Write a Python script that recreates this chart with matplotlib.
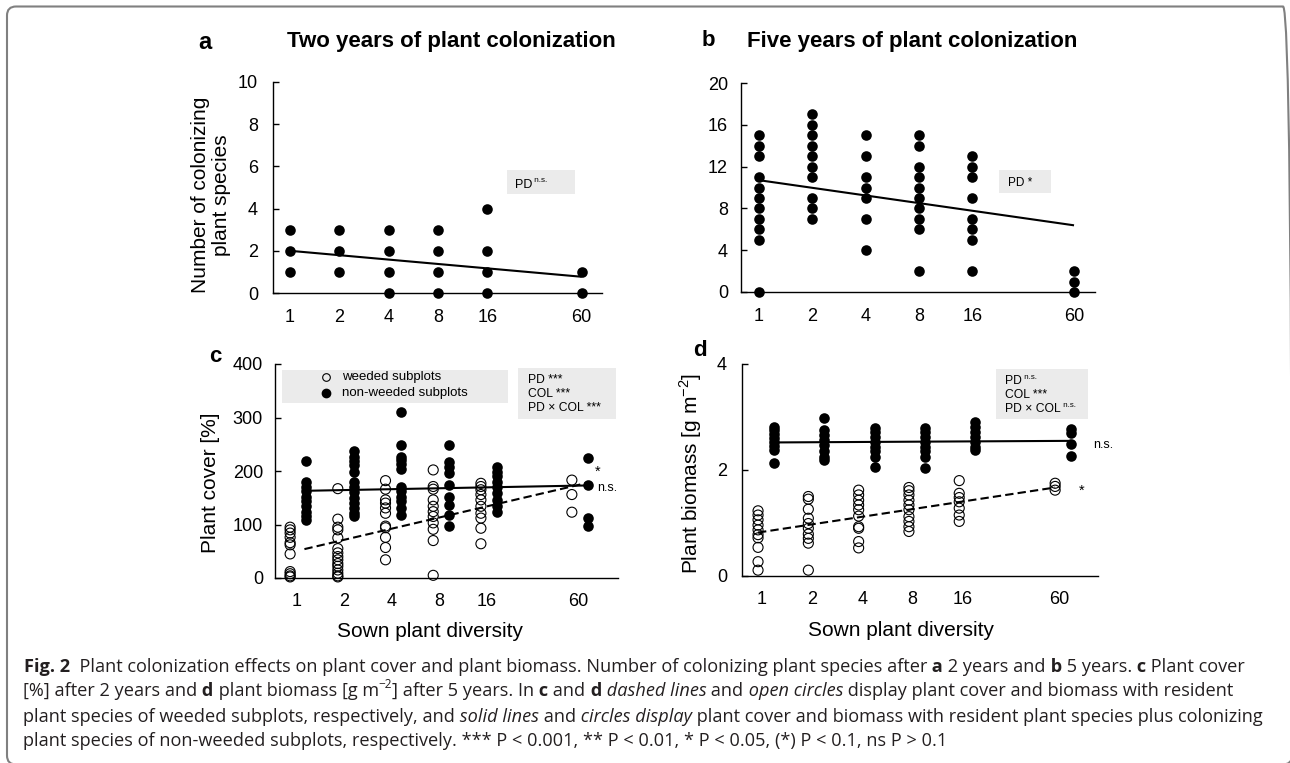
import numpy as np
import matplotlib
matplotlib.use("Agg")
import matplotlib.pyplot as plt
from matplotlib.patches import Rectangle, FancyBboxPatch
from matplotlib.lines import Line2D
from matplotlib.transforms import IdentityTransform

plt.rcParams['font.family'] = ['Liberation Sans', 'DejaVu Sans']

# ---------------- data ----------------
diversity = [1, 2, 4, 8, 16, 60]
div_labels = ['1', '2', '4', '8', '16', '60']

# a: number of colonizing species after 2 years
a_colonizers = [[1, 2, 3], [1, 2, 3], [0, 1, 2, 3], [0, 1, 2, 3], [0, 1, 2, 4], [0, 1]]
a_fit = [2.0, 0.77]          # fitted value at diversity 1 and 60

# b: number of colonizing species after 5 years
b_colonizers = [[15, 14, 13, 11, 10, 9, 8, 7, 6, 5, 0],
                [17, 16, 15, 14, 13, 12, 11, 9, 8, 7],
                [15, 13, 11, 10, 9, 7, 4],
                [15, 14, 12, 11, 10, 9, 8, 7, 6, 2],
                [13, 12, 11, 9, 7, 6, 5, 2],
                [2, 1, 0]]
b_fit = [10.7, 6.38]

# c: plant cover [%]
c_weeded = [[95, 90, 84, 76, 66, 62, 45, 12, 8, 4, 2],
            [167, 110, 95, 90, 75, 55, 47, 40, 34, 27, 22, 15, 9, 4, 2],
            [182, 166, 146, 140, 131, 121, 97, 94, 76, 57, 34],
            [202, 171, 166, 146, 134, 124, 115, 103, 91, 70, 5],
            [177, 171, 165, 156, 146, 134, 121, 112, 93, 64],
            [183, 156, 123]]
c_nonweeded = [[219, 180, 171, 162, 152, 143, 134, 124, 115, 109],
               [238, 227, 219, 211, 198, 180, 171, 160, 150, 140, 131, 122, 116],
               [311, 248, 227, 221, 213, 203, 171, 162, 152, 143, 131, 118],
               [248, 216, 208, 196, 174, 151, 137, 118, 98],
               [208, 199, 190, 180, 171, 159, 146, 134, 124],
               [225, 174, 112, 98]]
c_fit_weeded = [54, 178]
c_fit_nonweeded = [163, 173]

# d: plant biomass [g m-2]
d_weeded = [[1.23, 1.15, 1.06, 0.96, 0.87, 0.78, 0.72, 0.54, 0.27, 0.11],
            [1.5, 1.45, 1.26, 1.09, 0.99, 0.9, 0.79, 0.71, 0.62, 0.11],
            [1.62, 1.53, 1.43, 1.34, 1.25, 1.13, 0.93, 0.9, 0.65, 0.53],
            [1.67, 1.61, 1.53, 1.43, 1.34, 1.25, 1.12, 1.03, 0.93, 0.84],
            [1.8, 1.56, 1.48, 1.4, 1.28, 1.15, 1.03],
            [1.75, 1.69, 1.62]]
d_nonweeded = [[2.82, 2.75, 2.68, 2.6, 2.53, 2.46, 2.38, 2.14],
               [2.99, 2.75, 2.66, 2.57, 2.47, 2.35, 2.25, 2.18],
               [2.8, 2.72, 2.63, 2.53, 2.44, 2.35, 2.25, 2.05],
               [2.8, 2.72, 2.63, 2.53, 2.44, 2.35, 2.25, 2.03],
               [2.9, 2.82, 2.72, 2.63, 2.53, 2.44, 2.38],
               [2.78, 2.69, 2.5, 2.27]]
d_fit_weeded = [0.82, 1.67]
d_fit_nonweeded = [2.52, 2.55]

# ---------------- layout ----------------
W, H = 1290, 763
fig = plt.figure(figsize=(W / 100, H / 100), dpi=100)
renderer = fig.canvas.get_renderer()
xlog = np.log2(diversity)


def ax_px(l, t, r, b):
    return fig.add_axes([l / W, 1 - b / H, (r - l) / W, (b - t) / H])


def style(ax, xlim, ylim, yticks, xpad, ypad):
    ax.set_xlim(*xlim)
    ax.set_ylim(*ylim)
    for s in ['top', 'right']:
        ax.spines[s].set_visible(False)
    for s in ['left', 'bottom']:
        ax.spines[s].set_linewidth(1.0)
        ax.spines[s].set_color('black')
    ax.set_xticks(xlog)
    ax.set_xticklabels(div_labels)
    ax.set_yticks(yticks)
    ax.tick_params(axis='x', length=0, pad=xpad, labelsize=13)
    ax.tick_params(axis='y', direction='in', length=4, width=1, pad=ypad, labelsize=13)
    ax.patch.set_alpha(0)


def dots(ax, xpos, groups, filled, s):
    xs = np.concatenate([[x] * len(g) for x, g in zip(xpos, groups)])
    ys = np.concatenate([np.asarray(g, float) for g in groups])
    if filled:
        ax.scatter(xs, ys, s=s, c='black', linewidths=0, clip_on=False, zorder=3)
    else:
        ax.scatter(xs, ys, s=s, facecolors='none', edgecolors='black',
                   linewidths=0.8, clip_on=False, zorder=3)


def fit_line(ax, x0, x1, fit, ls='-'):
    ax.plot([x0, x1], fit, color='black', lw=1.5, ls=ls, zorder=4,
            dashes=(4, 2) if ls == '--' else (None, None), solid_capstyle='butt')


def ftext(x, y, s, **kw):
    return fig.text(x / W, 1 - y / H, s, **kw)


def rich(x, y, segs, size, family, color='black'):
    arts = []
    cx = x
    for s, st in segs:
        kw = dict(fontsize=size, family=family, color=color)
        dy = 0
        if st == 'b':
            kw['fontweight'] = 'bold'
        elif st == 'i':
            kw['fontstyle'] = 'italic'
        elif st == 'sup':
            kw['fontsize'] = size * 0.65
            dy = size * 0.45 * 100 / 72
        t = fig.text(cx / W, (H - (y - dy)) / H, s, ha='left', va='baseline', **kw)
        bb = t.get_window_extent(renderer)
        cx = bb.x1
        arts.append(t)
    return arts, cx - x


# ---- panel a ----
axa = ax_px(273, 82, 602, 293)
style(axa, (-0.344, 6.32), (0, 10), [0, 2, 4, 6, 8, 10], 11.5, 10.8)
dots(axa, xlog, a_colonizers, True, 58)
fit_line(axa, xlog[0], xlog[-1], a_fit)

# ---- panel b ----
axb = ax_px(741, 83, 1095, 292)
style(axb, (-0.3375, 6.30), (0, 20), [0, 4, 8, 12, 16, 20], 11.5, 9.4)
dots(axb, xlog, b_colonizers, True, 58)
fit_line(axb, xlog[0], xlog[-1], b_fit)

# ---- panel c ----
axc = ax_px(275, 364, 618, 578)
style(axc, (-0.447, 6.744), (0, 400), [0, 100, 200, 300, 400], 10.8, 8.6)
c_open_x = xlog - 0.13
c_fill_x = xlog + 0.20
dots(axc, c_open_x, c_weeded, False, 52)
dots(axc, c_fill_x, c_nonweeded, True, 58)
fit_line(axc, c_open_x[0] + 0.3, c_fill_x[-1], c_fit_weeded, ls='--')
fit_line(axc, c_fill_x[0], c_fill_x[-1], c_fit_nonweeded)

# ---- panel d ----
axd = ax_px(742, 364, 1098, 576)
style(axd, (-0.394, 6.684), (0, 4), [0, 2, 4], 10.8, 10.8)
d_open_x = xlog - 0.075
d_fill_x = xlog + 0.245
dots(axd, d_open_x, d_weeded, False, 52)
dots(axd, d_fill_x, d_nonweeded, True, 58)
fit_line(axd, d_open_x[0], d_open_x[-1], d_fit_weeded, ls='--')
fit_line(axd, d_fill_x[0], d_fill_x[-1], d_fit_nonweeded)

# ---- titles, panel letters, axis labels ----
ftext(198, 49, 'a', fontsize=17, fontweight='bold', va='baseline', ha='left')
ftext(451, 47, 'Two years of plant colonization', fontsize=16, fontweight='bold',
      va='baseline', ha='center')
ftext(702, 46, 'b', fontsize=16, fontweight='bold', va='baseline', ha='left')
ftext(912, 47.5, 'Five years of plant colonization', fontsize=16, fontweight='bold',
      va='baseline', ha='center')
ftext(209, 362, 'c', fontsize=16, fontweight='bold', va='baseline', ha='left')
ftext(693, 356, 'd', fontsize=16, fontweight='bold', va='baseline', ha='left')

ftext(211, 195, 'Number of colonizing\nplant species', fontsize=15, rotation=90,
      ha='center', va='center', multialignment='center', linespacing=1.15)
ftext(211, 483, 'Plant cover [%]', fontsize=15, rotation=90, ha='center', va='center')
ftext(691, 473, 'Plant biomass [g m$^{\\mathregular{-2}}$]', fontsize=15, rotation=90,
      ha='center', va='center')
ftext(430, 637, 'Sown plant diversity', fontsize=15, ha='center', va='baseline')
ftext(901, 636, 'Sown plant diversity', fontsize=15, ha='center', va='baseline')

# ---- grey annotation boxes ----
BOX = '#ebebeb'
lab_font = ['Liberation Sans', 'DejaVu Sans']


def gbox(l, t, r, b):
    fig.patches.append(Rectangle((l / W, 1 - b / H), (r - l) / W, (b - t) / H,
                                 transform=fig.transFigure, facecolor=BOX,
                                 edgecolor='none', zorder=0))


gbox(507, 170, 575, 194)
rich(515, 188, [('PD', 'r'), (' n.s.', 'sup')], 9, lab_font)
gbox(999, 170, 1051, 193)
rich(1008, 186, [('PD *', 'r')], 8.5, lab_font)

# legend of panel c
gbox(282, 370, 508, 403)
fig.lines.append(Line2D([326 / W], [1 - 377 / H], transform=fig.transFigure, marker='o',
                        ms=5.5, mfc='none', mec='black', mew=0.8, ls='none'))
fig.lines.append(Line2D([326 / W], [1 - 393 / H], transform=fig.transFigure, marker='o',
                        ms=6, mfc='black', mec='black', ls='none'))
ftext(342, 377, 'weeded subplots', fontsize=9.5, va='center', ha='left')
ftext(342, 393, 'non-weeded subplots', fontsize=9.5, va='center', ha='left')

# stats box c
gbox(518, 368, 616, 419)
rich(528, 383, [('PD ***', 'r')], 8.7, lab_font)
rich(528, 397, [('COL ***', 'r')], 8.7, lab_font)
rich(528, 411, [('PD \u00d7 COL ***', 'r')], 8.7, lab_font)

# stats box d
gbox(996, 369, 1088, 419)
rich(1005, 384, [('PD', 'r'), (' n.s.', 'sup')], 8.7, lab_font)
rich(1005, 398, [('COL ***', 'r')], 8.7, lab_font)
rich(1005, 412, [('PD \u00d7 COL', 'r'), (' n.s.', 'sup')], 8.7, lab_font)

# significance markers
ftext(595, 476, '*', fontsize=10.5, ha='left', va='baseline')
ftext(597, 491, 'n.s.', fontsize=9, ha='left', va='baseline')
ftext(1093, 448, 'n.s.', fontsize=9, ha='left', va='baseline')
ftext(1079, 495, '*', fontsize=10.5, ha='left', va='baseline')

# ---- caption ----
cap_font = ['Open Sans', 'DejaVu Sans']
cap_lines = [
    [('Fig. 2', 'b'),
     ('  Plant colonization effects on plant cover and plant biomass. Number of colonizing plant species after', 'r'),
     (' a', 'b'), (' 2 years and', 'r'), (' b', 'b'), (' 5 years.', 'r'), (' c', 'b'),
     (' Plant cover', 'r')],
    [('[%] after 2 years and', 'r'), (' d', 'b'), (' plant biomass [g m', 'r'),
     ('\u22122', 'sup'), ('] after 5 years. In', 'r'), (' c', 'b'), (' and', 'r'),
     (' d', 'b'), (' dashed lines', 'i'), (' and', 'r'), (' open circles', 'i'),
     (' display plant cover and biomass with resident', 'r')],
    [('plant species of weeded subplots, respectively, and', 'r'), (' solid lines', 'i'),
     (' and', 'r'), (' circles display', 'i'),
     (' plant cover and biomass with resident plant species plus colonizing', 'r')],
    [('plant species of non-weeded subplots, respectively. *** P < 0.001, ** P < 0.01, '
      '* P < 0.05, (*) P < 0.1, ns P > 0.1', 'r')],
]
cap_x = [24, 23, 23, 23]
cap_y = [671.5, 696.5, 721.5, 746.5]
cap_target = [1229, 1214, 1247]

base = 13.0
meas = []
for i in range(3):
    arts, w = rich(cap_x[i], cap_y[i], cap_lines[i], base, cap_font, color='#231f20')
    meas.append(w)
    for a in arts:
        a.remove()
cap_size = 0.99 * base * sum(cap_target) / sum(meas)
for i in range(4):
    rich(cap_x[i], cap_y[i], cap_lines[i], cap_size, cap_font, color='#231f20')

# ---- outer rounded frame ----
frame = FancyBboxPatch((7, -1.5), 1292 - 7, (H - 6.5) + 1.5,
                       boxstyle='round,pad=0,rounding_size=9',
                       transform=IdentityTransform(), facecolor='none',
                       edgecolor='#808080', linewidth=1.5)
fig.patches.append(frame)

fig.savefig('out.png', dpi=100)
